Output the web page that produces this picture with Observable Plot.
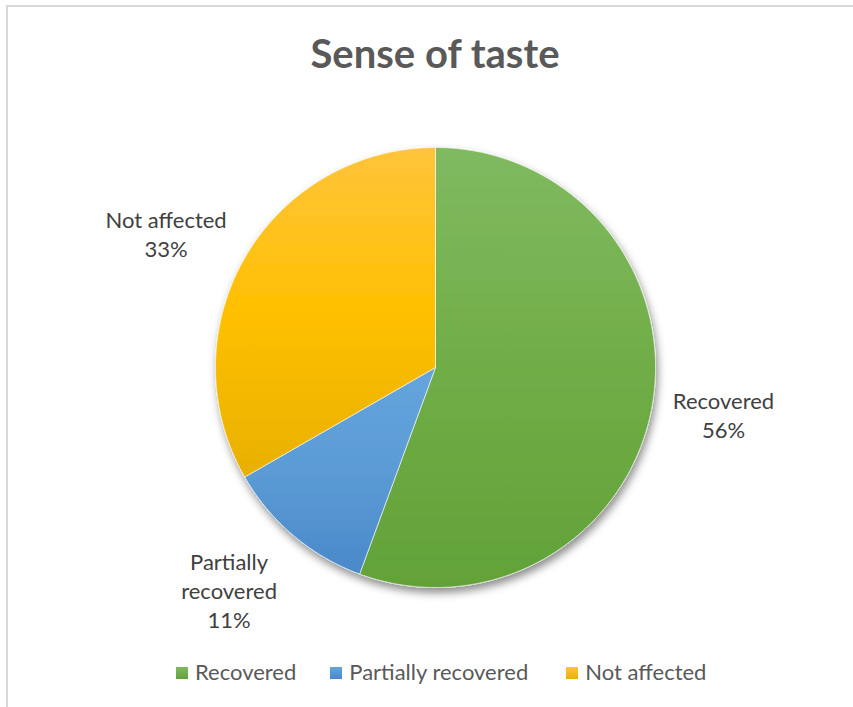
<!DOCTYPE html>
<html>
<head>
<meta charset="utf-8">
<script src="https://cdn.jsdelivr.net/npm/d3@7"></script>
<script src="https://cdn.jsdelivr.net/npm/@observablehq/plot@0.6"></script>
<style>
  html, body { margin: 0; padding: 0; background: #fff; }
  #wrap { position: relative; width: 853px; height: 707px; overflow: hidden; font-family: Lato, "Open Sans", sans-serif; }
  #frame { position: absolute; left: 6px; top: 5px; width: 1000px; height: 1000px; border-top: 2px solid #d9d9d9; border-left: 2px solid #d9d9d9; }
  #title { position: absolute; left: 0; width: 870px; top: 29px; text-align: center; font-weight: bold; font-size: 40px; line-height: 48px; color: #595959; }
  #chart { position: absolute; left: 0; top: 100px; }
  #legend { position: absolute; left: 176px; top: 657px; font-size: 22px; line-height: 30px; color: #595959; white-space: nowrap; }
  .item { display: inline-block; margin-right: 34px; }
  .item:nth-child(2) { margin-right: 38px; }
  .sw { display: inline-block; width: 12px; height: 12px; margin-right: 7px; vertical-align: 1px; }
</style>
</head>
<body>
<div id="wrap">
  <div id="frame"></div>
  <div id="title"></div>
  <div id="chart"></div>
  <div id="legend"></div>
</div>
<script>
const title = "Sense of taste";
const categories = ["Recovered", "Partially recovered", "Not affected"];
const values = [55.6, 11.1, 33.3];
const labelNames = ["Recovered", "Partially\nrecovered", "Not affected"];
const gradientStops = [
  ["#80ba61", "#70ad47", "#62a238"],
  ["#65a5de", "#5b9bd5", "#4a89ca"],
  ["#ffc43c", "#ffc000", "#e8b000"]
];
// label placement (layout only): radial distance in radii and angle shift in degrees
const labelRadius = [1.326, 1.38, 1.368];
const labelAngleShift = [-0.9, 2.7, -3.6];

document.getElementById("title").textContent = title;

const W = 853, H = 545, R = 220, CX = 435, CY = 267;
const total = d3.sum(values);
const pie = d3.pie().sort(null).value(d => d)(values);

const polys = [];
pie.forEach((p, i) => {
  const name = categories[i];
  polys.push({name, x: 0, y: 0});
  const n = Math.max(2, Math.ceil((p.endAngle - p.startAngle) / 0.005));
  for (let k = 0; k <= n; k++) {
    const a = p.startAngle + (p.endAngle - p.startAngle) * k / n;
    polys.push({name, x: Math.sin(a), y: Math.cos(a)});
  }
  polys.push({name, x: 0, y: 0});
});

const pct = d3.format(".0%");
const labels = pie.map((p, i) => {
  const a = (p.startAngle + p.endAngle) / 2 + labelAngleShift[i] * Math.PI / 180;
  const r = labelRadius[i];
  return {text: labelNames[i] + "\n" + pct(values[i] / total), x: r * Math.sin(a), y: r * Math.cos(a)};
});

const gradIds = categories.map((c, i) => "grad" + i);

const plot = Plot.plot({
  width: W,
  height: H,
  margin: 0,
  style: {fontFamily: "Lato, 'Open Sans', sans-serif", background: "transparent", overflow: "visible"},
  x: {domain: [-CX / R, (W - CX) / R], axis: null},
  y: {domain: [-(H - CY) / R, CY / R], axis: null},
  color: {domain: categories, range: gradIds.map(id => `url(#${id})`)},
  marks: [
    Plot.line(polys, {x: "x", y: "y", z: "name", fill: "name", stroke: "#ffffff", strokeWidth: 1, strokeOpacity: 0.6, curve: "linear"}),
    Plot.text(labels, {x: "x", y: "y", text: "text", fontSize: 22, fill: "#404040", lineHeight: 1.32, textAnchor: "middle", lineAnchor: "middle"})
  ]
});

const svg = d3.select(plot);
const defs = svg.insert("defs", ":first-child");
gradIds.forEach((id, i) => {
  const g = defs.append("linearGradient").attr("id", id).attr("x1", 0).attr("y1", 0).attr("x2", 0).attr("y2", 1);
  gradientStops[i].forEach((c, k) => g.append("stop").attr("offset", k / (gradientStops[i].length - 1)).attr("stop-color", c));
});
const f = defs.append("filter").attr("id", "shadow").attr("x", "-20%").attr("y", "-20%").attr("width", "140%").attr("height", "140%");
f.append("feDropShadow").attr("dx", 2).attr("dy", 5).attr("stdDeviation", 4).attr("flood-color", "#000").attr("flood-opacity", 0.45);
svg.select('g[aria-label="line"]').attr("filter", "url(#shadow)");

document.getElementById("chart").appendChild(plot);

const legend = d3.select("#legend");
categories.forEach((c, i) => {
  const it = legend.append("span").attr("class", "item");
  it.append("span").attr("class", "sw").style("background", `linear-gradient(${gradientStops[i][0]}, ${gradientStops[i][2]})`);
  it.append("span").text(c);
});
</script>
</body>
</html>
